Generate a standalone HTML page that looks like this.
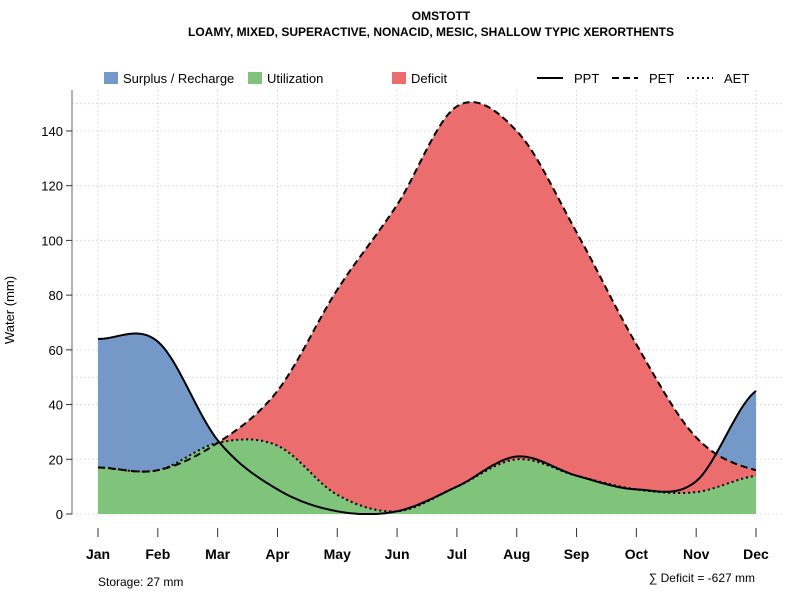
<!DOCTYPE html>
<html><head><meta charset="utf-8"><style>
body{margin:0;background:#fff;font-family:"Liberation Sans",sans-serif}
svg text{font-family:"Liberation Sans",sans-serif}
</style></head><body>
<svg id="chart" width="800" height="600">
<text x="441" y="20" font-size="12" font-weight="bold" text-anchor="middle">OMSTOTT</text>
<text x="431" y="36" font-size="12" font-weight="bold" text-anchor="middle">LOAMY, MIXED, SUPERACTIVE, NONACID, MESIC, SHALLOW TYPIC XERORTHENTS</text>
<g id="grid"></g>
<g id="areas"></g>
<g id="lines"></g>
<g id="axes"></g>
<g font-size="13">
<rect x="104" y="72" width="14" height="12" fill="#7499c8"/>
<text x="123" y="83">Surplus / Recharge</text>
<rect x="248" y="72" width="14" height="12" fill="#80c47c"/>
<text x="267" y="83">Utilization</text>
<rect x="392" y="72" width="14" height="12" fill="#eb6d6e"/>
<text x="411" y="83">Deficit</text>
<line x1="537" y1="78" x2="563" y2="78" stroke="#000" stroke-width="2"/>
<text x="574" y="83">PPT</text>
<line x1="612" y1="78" x2="638" y2="78" stroke="#000" stroke-width="2" stroke-dasharray="7,4"/>
<text x="649" y="83">PET</text>
<line x1="687" y1="78" x2="713" y2="78" stroke="#000" stroke-width="2" stroke-dasharray="2,3"/>
<text x="724" y="83">AET</text>
</g>
<text x="14" y="310" font-size="13" text-anchor="middle" transform="rotate(-90 14 310)">Water (mm)</text>
<text x="98" y="586" font-size="12">Storage: 27 mm</text>
<text x="755" y="582" font-size="12" text-anchor="end">∑ Deficit = -627 mm</text>
</svg>
<script>
const months=["Jan","Feb","Mar","Apr","May","Jun","Jul","Aug","Sep","Oct","Nov","Dec"];
const ppt=[64,63,27,9,1,1,10,21,14,9,12,45];
const pet=[17,16,26,45,82,113,149,140,103,62,28,16];
const aet=[17,16,26,25,7,1,10,20,14,9,8,14];
const yTicks=[0,20,40,60,80,100,120,140];
const NS="http://www.w3.org/2000/svg";
const xs=i=>98+i*(756-98)/11;
const ys=v=>514-v*2.736;
function el(t,a,p){const e=document.createElementNS(NS,t);for(const k in a)e.setAttribute(k,a[k]);document.getElementById(p).appendChild(e);return e;}
function curve(d){const pts=[];for(let i=0;i<d.length-1;i++){const p0=d[Math.max(i-1,0)],p1=d[i],p2=d[i+1],p3=d[Math.min(i+2,d.length-1)];for(let s=0;s<20;s++){const t=s/20,t2=t*t,t3=t2*t;const v=0.5*((2*p1)+(-p0+p2)*t+(2*p0-5*p1+4*p2-p3)*t2+(-p0+3*p1-3*p2+p3)*t3);pts.push([xs(i+t),ys(Math.max(v,0))]);}}pts.push([xs(d.length-1),ys(d[d.length-1])]);return pts;}
function line(pts){return "M"+pts.map(p=>p[0].toFixed(1)+","+p[1].toFixed(1)).join("L");}
function area(pts){return line(pts)+"L"+xs(11)+","+ys(0)+"L"+xs(0)+","+ys(0)+"Z";}
// grid
for(const v of yTicks){const g=el("line",{x1:72,x2:782,y1:ys(v),y2:ys(v),stroke:"#ddd","stroke-dasharray":"2,2"},"grid");}
for(const v of [50,150]){const g=el("line",{x1:72,x2:782,y1:ys(v),y2:ys(v),stroke:"#ddd","stroke-dasharray":"2,2"},"grid");}
months.forEach((m,i)=>{const g=el("line",{x1:xs(i),x2:xs(i),y1:90,y2:514,stroke:"#ddd","stroke-dasharray":"2,2"},"grid");});
const cP=curve(ppt),cE=curve(pet),cA=curve(aet);
const a1=el("path",{d:area(cP),fill:"#7499c8"},"areas");
const a2=el("path",{d:area(cE),fill:"#eb6d6e"},"areas");
const a3=el("path",{d:area(cA),fill:"#80c47c"},"areas");
const l1=el("path",{d:line(cP),fill:"none",stroke:"#000","stroke-width":2},"lines");
const l2=el("path",{d:line(cE),fill:"none",stroke:"#000","stroke-width":2,"stroke-dasharray":"7,4"},"lines");
const l3=el("path",{d:line(cA),fill:"none",stroke:"#000","stroke-width":2,"stroke-dasharray":"2,3"},"lines");
// axes
const ya=el("line",{x1:72,x2:72,y1:90,y2:514,stroke:"#666"},"axes");
for(const v of yTicks){const t=el("line",{x1:66,x2:72,y1:ys(v),y2:ys(v),stroke:"#333"},"axes");
const tx=el("text",{x:63,y:ys(v)+5,"font-size":13,"text-anchor":"end"},"axes");tx.textContent=v;}
months.forEach((m,i)=>{const t=el("line",{x1:xs(i),x2:xs(i),y1:528,y2:537,stroke:"#333"},"axes");
const tx=el("text",{x:xs(i),y:559,"font-size":14,"font-weight":"bold","text-anchor":"middle"},"axes");tx.textContent=m;});
</script>
</body></html>
